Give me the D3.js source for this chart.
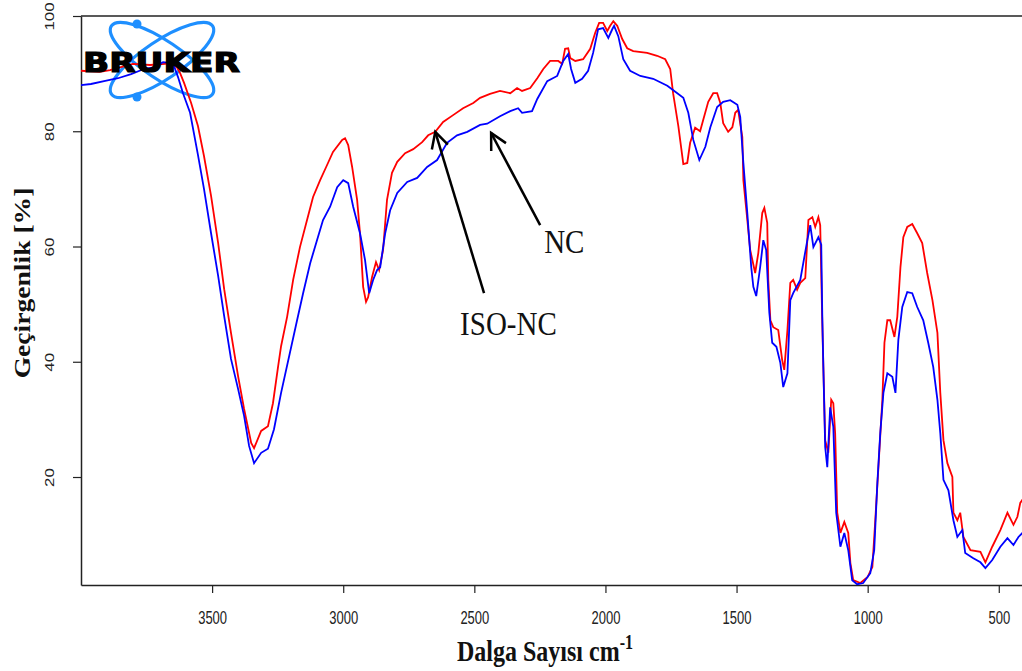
<!DOCTYPE html>
<html><head><meta charset="utf-8">
<script src="https://cdn.jsdelivr.net/npm/d3@7"></script>
<style>html,body{margin:0;padding:0;background:#fff;} svg{display:block;}</style>
</head><body>
<svg id="c" width="1022" height="671"></svg>
<script>
// ---- data ----
const xTicks = [3500, 3000, 2500, 2000, 1500, 1000, 500];
const yTicks = [20, 40, 60, 80, 100];
const xDomain = [4000, 400];
const yDomain = [1.26, 100];

// ISO-NC (red)
const isoWn = [4000,3928,3889,3851,3802,3737,3680,3657,3634,3622,3607,3580,3554,3531,3504,3477,3454,3428,3401,3378,3351,3340,3313,3287,3268,3248,3237,3214,3191,3165,3138,3115,3088,3062,3039,3004,2993,2981,2966,2947,2936,2924,2913,2905,2890,2875,2863,2848,2833,2814,2794,2764,2733,2699,2676,2649,2619,2581,2543,2504,2478,2440,2402,2363,2337,2318,2287,2260,2237,2211,2180,2165,2154,2142,2134,2115,2085,2058,2039,2024,2009,1993,1982,1970,1955,1936,1917,1894,1841,1803,1772,1753,1742,1722,1703,1688,1677,1658,1639,1627,1608,1589,1574,1562,1551,1532,1516,1505,1494,1478,1474,1459,1448,1429,1417,1402,1394,1383,1379,1371,1360,1341,1326,1318,1306,1295,1284,1269,1257,1238,1226,1211,1200,1188,1181,1173,1169,1162,1150,1139,1131,1124,1116,1104,1089,1074,1066,1055,1028,1001,982,971,959,944,936,925,914,898,887,875,864,849,830,811,792,773,753,734,723,711,696,677,673,658,647,635,608,570,551,525,494,467,444,429,418,403];
const isoT  = [90.5,90.3,90.6,91.1,91.7,91.5,91.7,91.8,91.1,90.1,88.4,84.9,80.9,75.7,68.8,60.6,52.6,45.0,37.5,31.8,25.9,25.0,28.0,28.8,32.8,39.3,42.7,47.8,54.2,59.9,64.6,68.6,71.5,74.1,76.4,78.5,78.8,77.6,73.8,68.1,62.3,53.0,50.4,51.2,54.7,57.3,55.9,59.4,68.1,72.8,74.7,76.2,76.9,78.1,79.3,79.9,81.6,82.8,84.0,84.9,85.8,86.5,87.0,86.6,87.5,87.0,87.5,89.2,90.8,92.2,92.2,91.7,94.3,94.4,92.7,92.2,92.5,94.3,97.1,98.8,98.8,97.4,98.3,99.1,98.3,96.0,94.4,93.9,93.6,93.1,92.5,90.8,86.6,80.9,74.3,74.5,78.0,80.6,80.0,82.0,85.1,86.6,86.6,84.9,81.4,79.9,80.7,83.2,83.7,79.0,71.5,64.6,59.4,55.4,58.9,65.8,66.7,64.1,54.2,47.2,46.0,45.5,40.3,38.6,45.5,53.7,54.2,52.5,53.7,54.5,64.6,65.1,63.4,65.1,63.7,46.7,39.1,26.4,24.2,33.4,32.8,27.6,13.8,10.3,12.2,10.3,5.1,2.1,1.6,2.6,4.4,12.5,21.7,33.4,43.3,47.2,47.2,44.3,47.8,56.4,61.6,63.4,63.9,62.3,60.6,55.4,50.7,45.0,34.6,26.4,22.4,20.0,13.8,12.5,13.8,9.6,7.3,7.0,5.2,7.9,10.8,13.8,11.7,13.1,15.5,16.5];

// NC (blue)
const ncWn = [4000,3962,3912,3859,3809,3760,3725,3687,3649,3630,3611,3584,3554,3531,3504,3477,3454,3428,3401,3378,3359,3340,3313,3287,3264,3237,3176,3153,3126,3100,3077,3050,3023,3000,2981,2962,2936,2917,2901,2886,2871,2859,2840,2821,2794,2756,2718,2680,2642,2604,2566,2527,2478,2451,2402,2363,2333,2318,2280,2260,2222,2184,2161,2142,2131,2115,2089,2066,2047,2028,2009,1989,1974,1967,1951,1932,1906,1867,1818,1764,1726,1703,1684,1665,1642,1619,1600,1574,1551,1524,1497,1486,1474,1459,1444,1436,1425,1410,1398,1387,1375,1364,1348,1333,1322,1306,1295,1284,1257,1230,1219,1207,1188,1177,1173,1169,1162,1154,1143,1131,1120,1104,1089,1074,1059,1040,1017,990,975,963,952,940,925,906,894,883,868,849,830,811,788,769,750,734,723,711,692,673,658,639,628,597,570,551,525,494,467,444,425,403];
const ncT  = [88.0,88.2,88.7,89.2,89.9,90.8,91.1,92.0,91.8,89.4,86.6,83.2,75.9,70.0,62.3,54.9,47.9,40.5,35.3,30.6,25.4,22.4,24.2,24.9,28.3,34.6,47.2,51.9,57.1,61.1,64.6,66.9,70.3,71.5,71.0,66.9,62.3,57.7,51.9,54.2,55.9,56.4,62.3,66.3,69.3,71.2,71.9,73.8,75.0,78.0,79.3,79.9,81.1,81.3,82.6,83.5,84.0,83.2,83.5,85.6,88.7,89.6,92.2,93.4,90.8,88.4,89.1,90.5,93.6,97.7,97.9,96.2,97.7,98.3,96.5,92.5,90.5,89.6,89.1,87.9,86.6,85.8,83.2,78.5,75.0,77.3,80.7,84.2,85.1,85.4,84.6,82.5,74.5,65.8,56.4,53.0,51.4,56.4,61.1,59.4,48.5,43.3,42.6,39.8,35.6,38.0,50.7,51.9,54.2,61.1,63.7,59.9,61.6,60.3,47.8,39.1,25.2,21.7,32.1,28.7,13.8,7.9,10.3,7.3,2.1,1.4,1.6,3.3,7.3,19.0,27.6,34.6,38.0,37.4,34.6,43.8,49.5,52.1,51.9,49.5,47.2,43.3,39.1,33.4,27.6,19.5,17.7,12.5,9.6,10.8,6.8,5.9,5.2,4.2,5.6,7.9,9.4,8.2,9.6,10.6];

// annotations (data coordinates)
const annText   = ["NC", "ISO-NC"];
const annTipWn  = [2436, 2649];
const annTipT   = [79.7, 79.9];
const annTailWn = [2249, 2463];
const annTailT  = [63.7, 51.9];
const annLabWn  = [2157, 2370];
const annLabT   = [58.9, 44.6];

const xTitle = "Dalga Sayısı cm";
const xTitleSup = "-1";
const yTitle = "Geçirgenlik [%]";
const logoText = "BRUKER";

// ---- drawing ----
const svg = d3.select("#c");
const x = d3.scaleLinear().domain(xDomain).range([81, 1025]);
const y = d3.scaleLinear().domain(yDomain).range([585, 16]);

// logo atom (behind)
const logo = svg.append("g").attr("transform", "translate(162,60)");
[-34, 34].forEach(a => {
  logo.append("ellipse").attr("rx", 61).attr("ry", 19)
    .attr("transform", `rotate(${a})`)
    .attr("fill", "none").attr("stroke", "#1e8fff").attr("stroke-width", 3.2);
});
logo.append("circle").attr("cx", -25).attr("cy", -36).attr("r", 4.5).attr("fill", "#1e8fff");
logo.append("circle").attr("cx", -25).attr("cy", 37).attr("r", 4.5).attr("fill", "#1e8fff");

// frame
const frameColor = "#222";
svg.append("line").attr("x1", 81).attr("x2", 1022).attr("y1", 16).attr("y2", 16)
  .attr("stroke", frameColor).attr("stroke-width", 1.5);

// axes
const xAxis = svg.append("g").attr("transform", "translate(0,585)")
  .call(d3.axisBottom(x).tickValues(xTicks).tickSize(8).tickSizeOuter(0).tickFormat(d3.format("d")));
xAxis.select(".domain").attr("stroke", frameColor).attr("stroke-width", 1.5);
xAxis.selectAll(".tick line").attr("stroke", frameColor).attr("stroke-width", 1.2);
xAxis.selectAll(".tick text")
  .attr("y", 0).attr("dy", 0)
  .attr("transform", "translate(0,39) scale(1,1.35)")
  .attr("font-family", "Liberation Sans, Arial, sans-serif")
  .attr("font-size", 13).attr("fill", "#222");

const yAxis = svg.append("g").attr("transform", "translate(81,0)")
  .call(d3.axisLeft(y).tickValues(yTicks).tickSize(8).tickSizeOuter(0));
yAxis.select(".domain").attr("stroke", frameColor).attr("stroke-width", 1.5);
yAxis.selectAll(".tick line").attr("stroke", frameColor).attr("stroke-width", 1.2);
yAxis.selectAll(".tick text")
  .attr("x", 0).attr("dy", 0)
  .attr("text-anchor", "middle")
  .attr("transform", "translate(-32,0) rotate(-90) scale(1.3,1)")
  .attr("dominant-baseline", "central")
  .attr("font-family", "Liberation Sans, Arial, sans-serif")
  .attr("font-size", 13).attr("fill", "#222");

// curves
const line = d3.line().x(d => x(d[0])).y(d => y(d[1]));
const isoData = isoWn.map((w, i) => [w, isoT[i]]);
const ncData = ncWn.map((w, i) => [w, ncT[i]]);
svg.append("defs").append("clipPath").attr("id", "clip")
  .append("rect").attr("x", 81).attr("y", 16).attr("width", 950).attr("height", 570);
const plot = svg.append("g").attr("clip-path", "url(#clip)");
plot.append("path").datum(isoData).attr("d", line)
  .attr("fill", "none").attr("stroke", "#ff0000").attr("stroke-width", 1.8);
plot.append("path").datum(ncData).attr("d", line)
  .attr("fill", "none").attr("stroke", "#0000ff").attr("stroke-width", 1.8);

// logo text (on top)
svg.append("text").attr("x", 83).attr("y", 72)
  .attr("font-family", "DejaVu Sans, sans-serif").attr("font-weight", "bold")
  .attr("font-size", 26).attr("textLength", 157).attr("lengthAdjust", "spacingAndGlyphs")
  .attr("stroke", "#000").attr("stroke-width", 1.2)
  .attr("fill", "#000").text(logoText);

// annotations
const ann = svg.append("g");
annText.forEach((t, i) => {
  const x1 = x(annTailWn[i]), y1 = y(annTailT[i]);
  const x2 = x(annTipWn[i]), y2 = y(annTipT[i]);
  ann.append("line").attr("x1", x1).attr("y1", y1).attr("x2", x2).attr("y2", y2)
    .attr("stroke", "#000").attr("stroke-width", 2.5);
  const ang = Math.atan2(y1 - y2, x1 - x2);
  const L = 18, sp = Math.PI / 6.5;
  const p = [[x2 + L * Math.cos(ang - sp), y2 + L * Math.sin(ang - sp)], [x2, y2], [x2 + L * Math.cos(ang + sp), y2 + L * Math.sin(ang + sp)]];
  ann.append("path").attr("d", d3.line()(p)).attr("fill", "none")
    .attr("stroke", "#000").attr("stroke-width", 2.5).attr("stroke-linejoin", "miter");
  const lx = x(annLabWn[i]), ly = y(annLabT[i]);
  ann.append("text").attr("transform", `translate(${lx},${ly}) scale(1,1.15)`)
    .attr("text-anchor", "middle")
    .attr("font-family", "Liberation Serif, Times New Roman, serif")
    .attr("font-size", 29).attr("fill", "#111").text(t);
});

// axis titles
const xt = svg.append("text").attr("transform", "translate(545,661) scale(1,1.25)")
  .attr("text-anchor", "middle")
  .attr("font-family", "Liberation Serif, Times New Roman, serif").attr("font-weight", "bold")
  .attr("font-size", 24).attr("fill", "#111");
xt.append("tspan").text(xTitle);
xt.append("tspan").attr("dy", -10).attr("font-size", 16).text(xTitleSup);

svg.append("text").attr("transform", "translate(30,283) rotate(-90) scale(1.2,1)")
  .attr("text-anchor", "middle")
  .attr("font-family", "Liberation Serif, Times New Roman, serif").attr("font-weight", "bold")
  .attr("font-size", 23).attr("fill", "#111").text(yTitle);
</script>
</body></html>
